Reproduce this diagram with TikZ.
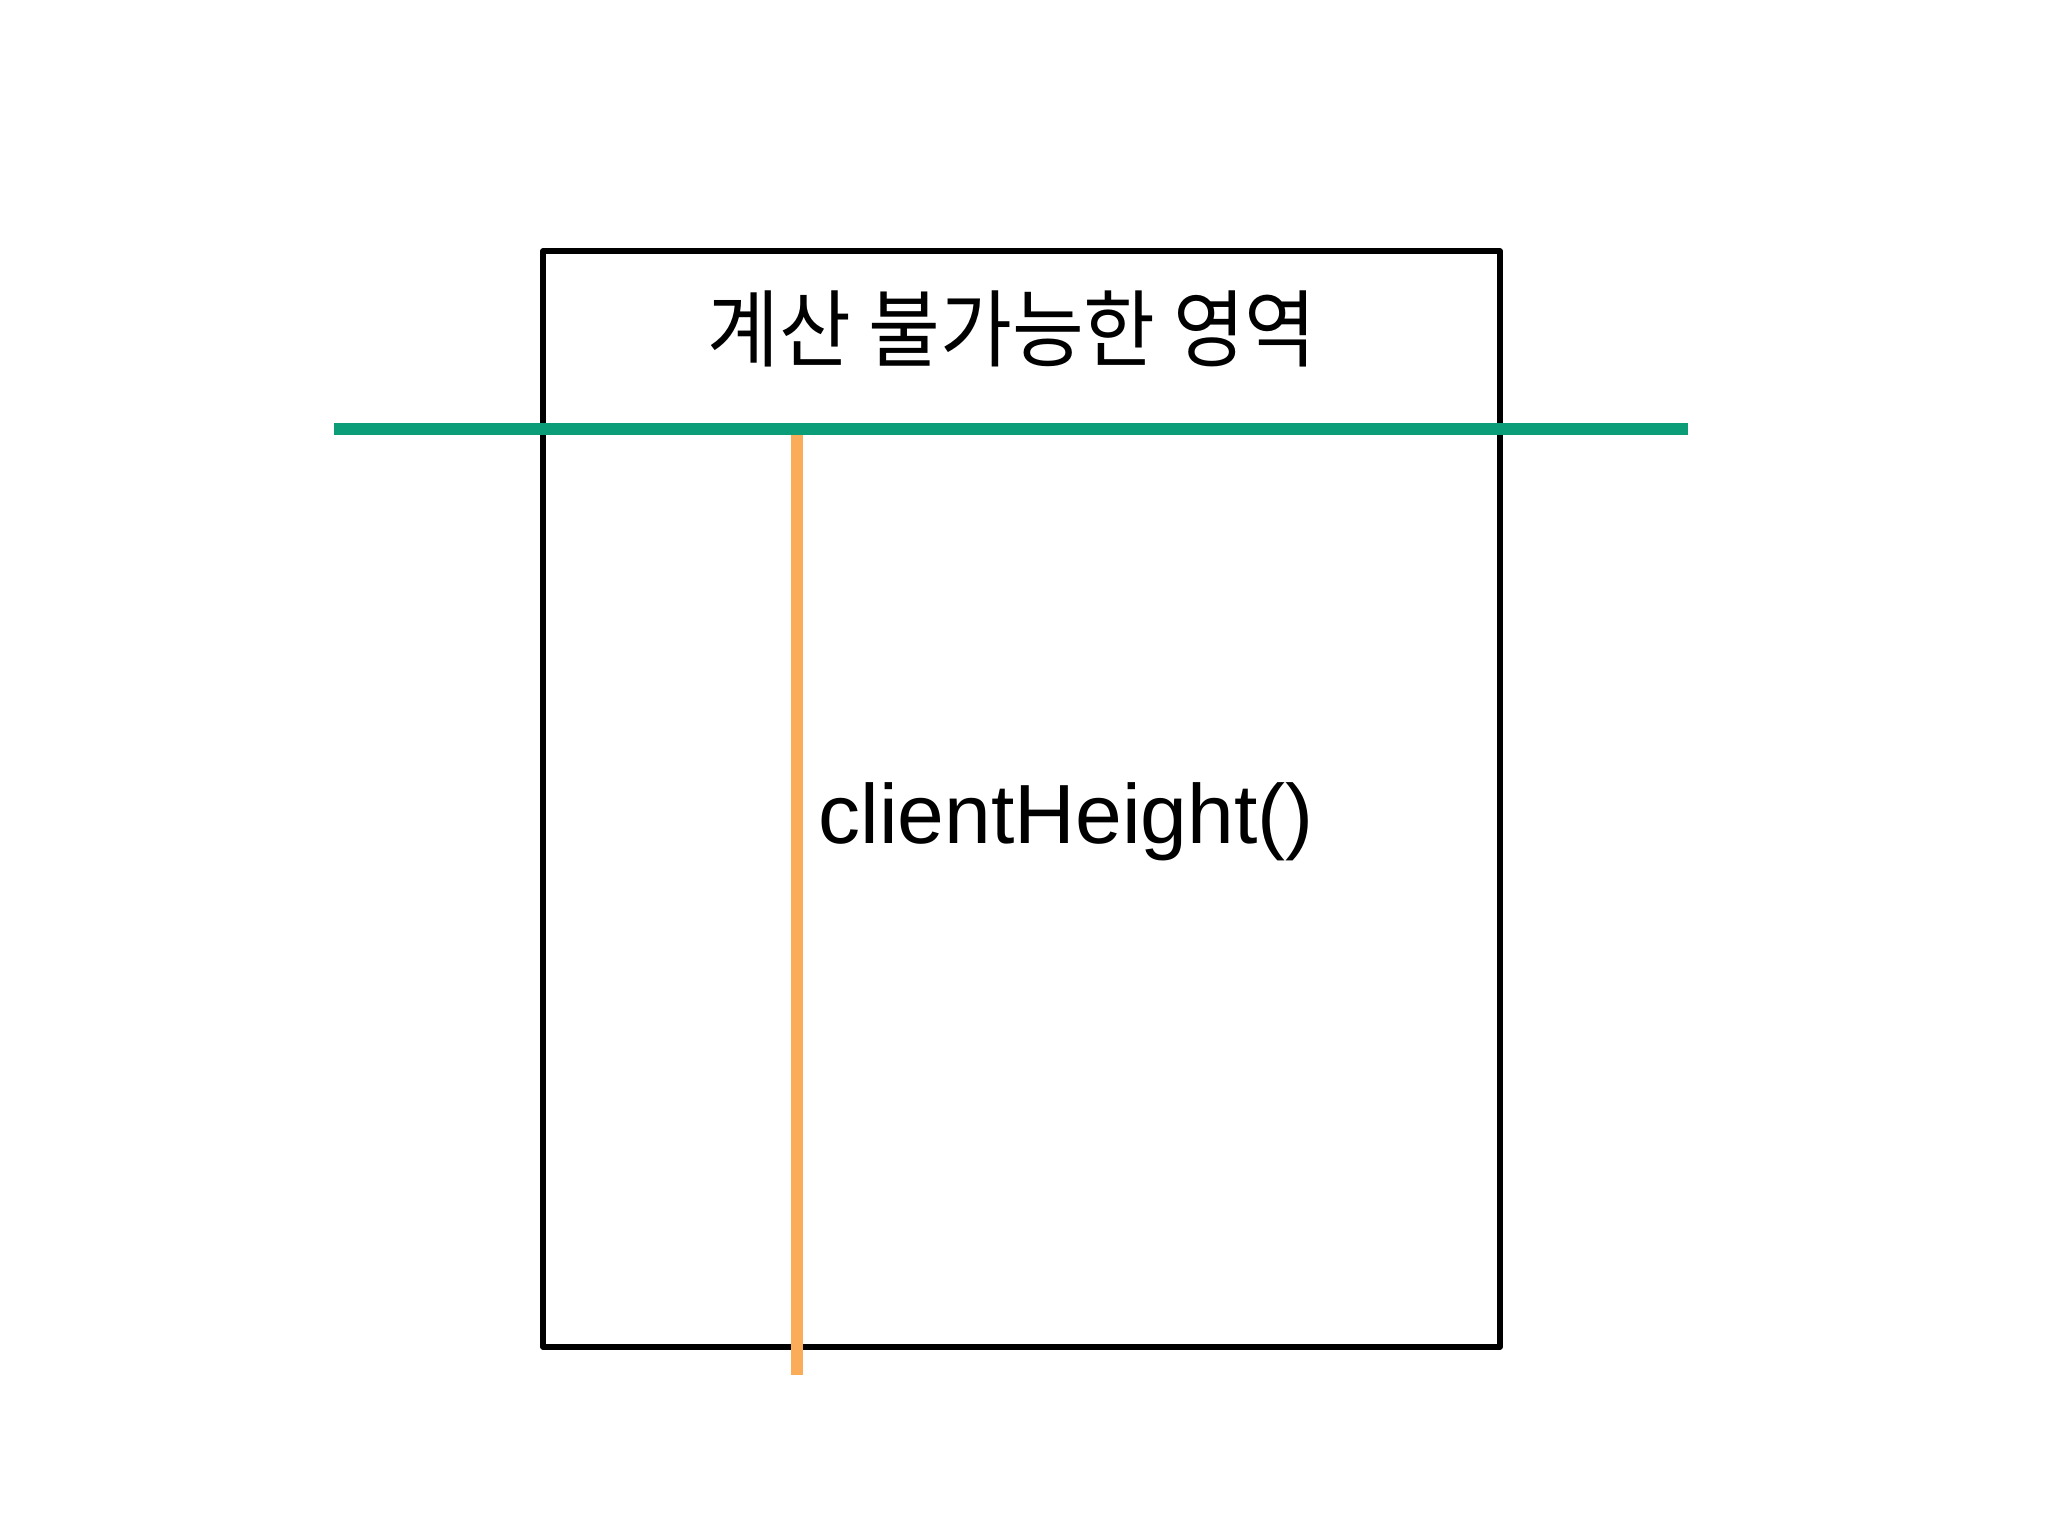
\documentclass[tikz,border=0pt]{standalone}
\usepackage{fontspec}
\setmainfont{Liberation Sans}
\newfontfamily\kofont{Noto Sans CJK KR}
\definecolor{lineGreen}{RGB}{10,157,120}
\definecolor{lineOrange}{RGB}{250,172,88}
\newlength{\pxu}
\setlength{\pxu}{0.01cm}
\tikzset{
  boxframe/.style={draw=black, line width=1.45pt, line join=round, outer sep=0pt, minimum width=957\pxu, minimum height=1096\pxu, inner sep=0pt},
  greenbar/.style={draw=lineGreen, line width=3.4pt},
  orangebar/.style={draw=lineOrange, line width=3.4pt},
  lbl/.style={inner sep=0pt, anchor=base}
}
\begin{document}
\begin{tikzpicture}[x=0.01cm, y=-0.01cm]
\useasboundingbox (0,0) rectangle (2048,1536);
\node[boxframe, anchor=north west] (box) at (543,251) {};
\coordinate (gL) at (334,429);
\coordinate (gR) at (1688,429);
\coordinate (oT) at (797,435);
\coordinate (oB) at (797,1375);
\draw[orangebar] (oT) -- (oB);
\draw[greenbar] (gL) -- (gR);
\node[lbl, yscale=1.08] (title) at (1012,360) {\kofont\fontsize{22.2pt}{26pt}\selectfont 계산 불가능한 영역};
\node[lbl] (ch) at (1066,843) {\fontsize{23.9pt}{28pt}\selectfont clientHeight()};
\end{tikzpicture}
\end{document}
